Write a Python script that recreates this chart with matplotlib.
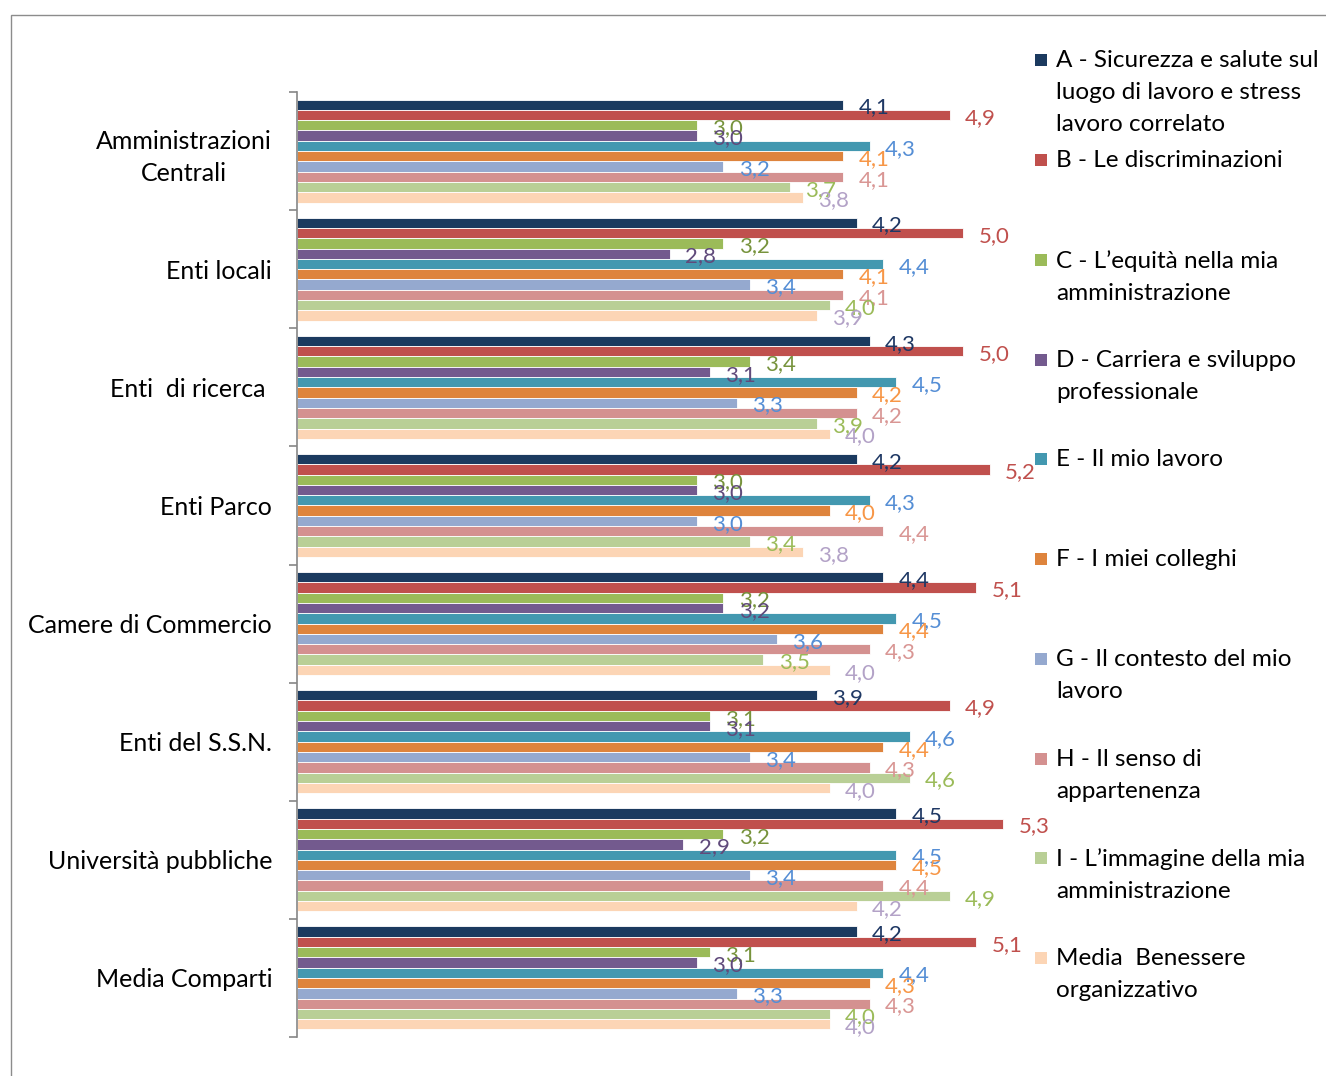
import numpy as np
import matplotlib
matplotlib.use("Agg")
import matplotlib.pyplot as plt
from matplotlib.patches import Rectangle

plt.rcParams['font.family'] = ['Lato', 'DejaVu Sans']

# categorie (dall'alto in basso)
categorie = ['Amministrazioni\nCentrali', 'Enti locali', 'Enti  di ricerca ', 'Enti Parco',
             'Camere di Commercio', 'Enti del S.S.N.', 'Università pubbliche', 'Media Comparti']

serie = ['A - Sicurezza e salute sul\nluogo di lavoro e stress\nlavoro correlato',
         'B - Le discriminazioni',
         'C - L\u2019equità nella mia\namministrazione',
         'D - Carriera e sviluppo\nprofessionale',
         'E - Il mio lavoro',
         'F - I miei colleghi',
         'G - Il contesto del mio\nlavoro',
         'H - Il senso di\nappartenenza',
         'I - L\u2019immagine della mia\namministrazione',
         'Media  Benessere\norganizzativo']

A = [4.1, 4.2, 4.3, 4.2, 4.4, 3.9, 4.5, 4.2]
B = [4.9, 5.0, 5.0, 5.2, 5.1, 4.9, 5.3, 5.1]
C = [3.0, 3.2, 3.4, 3.0, 3.2, 3.1, 3.2, 3.1]
D = [3.0, 2.8, 3.1, 3.0, 3.2, 3.1, 2.9, 3.0]
E = [4.3, 4.4, 4.5, 4.3, 4.5, 4.6, 4.5, 4.4]
F = [4.1, 4.1, 4.2, 4.0, 4.4, 4.4, 4.5, 4.3]
G = [3.2, 3.4, 3.3, 3.0, 3.6, 3.4, 3.4, 3.3]
H = [4.1, 4.1, 4.2, 4.4, 4.3, 4.3, 4.4, 4.3]
I = [3.7, 4.0, 3.9, 3.4, 3.5, 4.6, 4.9, 4.0]
media = [3.8, 3.9, 4.0, 3.8, 4.0, 4.0, 4.2, 4.0]
valori = [A, B, C, D, E, F, G, H, I, media]

colori_barre = ['#1B3A5F', '#C0504D', '#9BBB59', '#735A8E', '#4398B0',
                '#DE843D', '#95A9CF', '#D49190', '#B9CF96', '#FCD5B5']
colori_etichette = ['#1F3864', '#C0504D', '#77933C', '#604A7B', '#558ED5',
                    '#F79646', '#558ED5', '#D99694', '#9BBB59', '#B3A2C7']

W, H_ = 1326, 1076
fig = plt.figure(figsize=(W / 100, H_ / 100), dpi=100)

# cornice esterna
fig.patches.append(Rectangle((11 / W, -0.1), 1.2, 1 - 15 / H_ + 0.1, transform=fig.transFigure,
                             fill=False, edgecolor='#8C8C8C', linewidth=1.0))

ax = fig.add_axes([297 / W, 1 - 1037 / H_, 746 / W, (1037 - 92) / H_])

n = len(valori)
h = 0.0873
start = (1 - n * h) / 2
y0 = np.arange(len(categorie))
for j, (vals, col, lcol) in enumerate(zip(valori, colori_barre, colori_etichette)):
    ys = y0 + start + (j + 0.5) * h
    ax.barh(ys, vals, height=h, color=col, edgecolor='white', linewidth=0.6)
    for y, v in zip(ys, vals):
        ax.annotate(f"{v:.1f}".replace('.', ','), (v, y), xytext=(11, -2),
                    textcoords='offset points', ha='left', va='center',
                    fontsize=16, color=lcol)

ax.set_xlim(0, 5.6)
ax.set_ylim(len(categorie), 0)

for s in ['top', 'right', 'bottom']:
    ax.spines[s].set_visible(False)
ax.spines['left'].set_color('#868686')
ax.spines['left'].set_linewidth(1.2)
ax.set_xticks([])

ax.set_yticks(np.arange(len(categorie) + 1))
ax.set_yticklabels([])
ax.tick_params(axis='y', which='major', length=6, width=1.2, color='#868686')
ax.set_yticks(y0 + 0.5, minor=True)
ax.set_yticklabels(categorie, minor=True, fontsize=18, multialignment='center', linespacing=1.45)
ax.tick_params(axis='y', which='minor', length=0, pad=18)
# la prima etichetta su due righe va un po' più in alto
ax.get_yticklabels(minor=True)[0].set_va('center_baseline')

# legenda a destra
leg_y = [60, 160, 260, 360, 459, 559, 659, 759, 858, 958]
for lab, col, yy in zip(serie, colori_barre, leg_y):
    fig.patches.append(Rectangle((1035 / W, 1 - (yy + 6) / H_), 12 / W, 12 / H_,
                                 transform=fig.transFigure, facecolor=col, edgecolor='none'))
    fig.text(1056 / W, 1 - (yy - 10) / H_, lab, fontsize=17.5, va='top', ha='left',
             linespacing=1.66, color='black')

fig.savefig('out.png', dpi=100)
